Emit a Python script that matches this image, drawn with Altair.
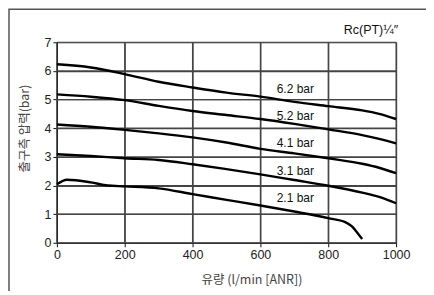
import altair as alt
import pandas as pd

# flow (l/min ANR) sample points and outlet pressure (bar) for each set pressure
flow_62 = [0, 100, 200, 300, 400, 500, 600, 700, 800, 900, 950, 1000]
p_62 = [6.23, 6.12, 5.89, 5.62, 5.42, 5.24, 5.10, 4.92, 4.77, 4.62, 4.50, 4.32]

flow_52 = [0, 100, 200, 300, 400, 500, 600, 700, 800, 900, 950, 1000]
p_52 = [5.18, 5.10, 4.98, 4.78, 4.60, 4.46, 4.32, 4.15, 3.96, 3.76, 3.63, 3.47]

flow_41 = [0, 100, 200, 300, 400, 500, 600, 700, 800, 900, 950, 1000]
p_41 = [4.13, 4.05, 3.94, 3.82, 3.68, 3.50, 3.28, 3.12, 2.95, 2.76, 2.62, 2.43]

flow_31 = [0, 100, 200, 300, 400, 500, 600, 700, 800, 900, 950, 1000]
p_31 = [3.09, 3.03, 2.95, 2.89, 2.74, 2.57, 2.39, 2.19, 1.99, 1.75, 1.60, 1.38]

flow_21 = [0, 30, 100, 150, 200, 300, 400, 500, 600, 700, 800, 850, 870, 885, 900]
p_21 = [2.04, 2.20, 2.11, 2.00, 1.97, 1.90, 1.70, 1.50, 1.30, 1.09, 0.86, 0.72, 0.57, 0.36, 0.13]

series_names = ["6.2 bar", "5.2 bar", "4.1 bar", "3.1 bar", "2.1 bar"]
label_flow = [703, 703, 703, 703, 703]
label_p = [5.37, 4.44, 3.47, 2.51, 1.56]

x_ticks = [0, 200, 400, 600, 800, 1000]
y_ticks = [0, 1, 2, 3, 4, 5, 6, 7]
x_min, x_max = 0, 1000
y_min, y_max = 0, 7

rows = []
for name, fl, pr in zip(series_names,
                        [flow_62, flow_52, flow_41, flow_31, flow_21],
                        [p_62, p_52, p_41, p_31, p_21]):
    for f, p in zip(fl, pr):
        rows.append({"series": name, "flow": f, "p": p})
df = pd.DataFrame(rows)
labels = pd.DataFrame({"series": series_names, "flow": label_flow, "p": label_p})

grid_rows = []
for t in x_ticks:
    grid_rows.append({"g": f"v{t}", "flow": t, "p": y_min})
    grid_rows.append({"g": f"v{t}", "flow": t, "p": y_max})
for t in y_ticks:
    grid_rows.append({"g": f"h{t}", "flow": x_min, "p": t})
    grid_rows.append({"g": f"h{t}", "flow": x_max, "p": t})
grid_df = pd.DataFrame(grid_rows)

xs = alt.Scale(domain=[x_min, x_max], nice=False, zero=False)
ys = alt.Scale(domain=[y_min, y_max], nice=False)

FONT = "Liberation Sans"
KFONT = "Noto Sans CJK KR"

common = dict(grid=True, gridColor="#444", gridWidth=1.2, gridOpacity=1,
              domainColor="#111", domainWidth=1.2, tickColor="#111", tickSize=4,
              labelFontSize=12.5, labelFont=FONT, labelColor="#222", labelPadding=2,
              titleFont=KFONT, titleFontSize=12.5, titleFontWeight="normal",
              titleColor="#444", titleAlign="center", titleBaseline="middle")

xaxis = alt.Axis(values=x_ticks, format="d", title="유량 (l/min [ANR])",
                 titleX=195, titleY=37, labelFlush=False, **common)
yaxis = alt.Axis(values=y_ticks, format="d", title="출구측 압력(bar)",
                 titleX=-32, titleY=86, titleAngle=270, **common)

frame = alt.Chart(pd.DataFrame({"a": [0]})).mark_rect(
    fill="transparent", stroke="#555", strokeWidth=1.5
).encode(x=alt.value(-48), x2=alt.value(420), y=alt.value(-33), y2=alt.value(320))

grid = alt.Chart(grid_df).mark_line(color="#444", strokeWidth=1.2, interpolate="linear").encode(
    x=alt.X("flow:Q", scale=xs, axis=xaxis),
    y=alt.Y("p:Q", scale=ys, axis=yaxis),
    detail="g:N",
)

lines = alt.Chart(df).mark_line(color="#000", strokeWidth=2.4, interpolate="monotone").encode(
    x=alt.X("flow:Q", scale=xs, axis=xaxis),
    y=alt.Y("p:Q", scale=ys, axis=yaxis),
    detail="series:N",
)

text = alt.Chart(labels).mark_text(font=FONT, fontSize=12, color="#111",
                                   align="center", baseline="middle").encode(
    x=alt.X("flow:Q", scale=xs, axis=xaxis), y=alt.Y("p:Q", scale=ys, axis=yaxis), text="series:N"
)

corner = alt.Chart(pd.DataFrame({"t": ["Rc(PT)¼\u2033"]})).mark_text(
    font=FONT, fontSize=12.5, color="#111", align="right", baseline="middle"
).encode(x=alt.value(342), y=alt.value(-12), text="t:N")

chart = alt.layer(frame, grid, lines, text, corner).properties(
    width=340, height=201,
    autosize=alt.AutoSizeParams(type="none"),
    padding={"left": 49, "top": 34, "right": 30, "bottom": 48},
    background="white",
)

chart.save("out.html", embed_options={"renderer": "svg", "actions": False})
